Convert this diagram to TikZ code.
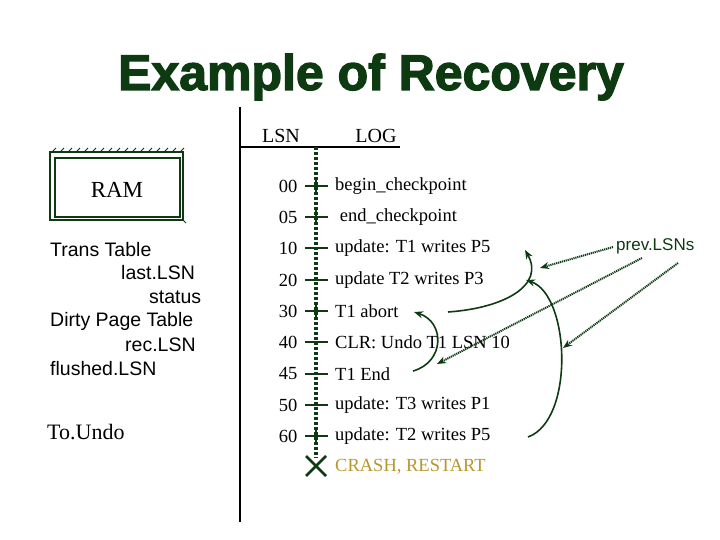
\documentclass[tikz,border=0pt]{standalone}
\usepackage{fontspec}
\setmainfont{Liberation Serif}
\newfontfamily\sansf{Liberation Sans}
\usetikzlibrary{arrows.meta}
\definecolor{dg}{HTML}{0E3A12}
\definecolor{gold}{HTML}{B8962E}
\begin{document}
\begin{tikzpicture}[x=1pt,y=-1pt,
  ser/.style={font=\fontsize{18.5}{22}\selectfont,inner sep=0pt},
  lsn/.style={ser,anchor=center},
  ent/.style={ser,anchor=west},
  sans/.style={font=\sansf\fontsize{19.5}{23}\selectfont,inner sep=0pt},
  back/.style={dg,line width=1.6pt,-{Stealth[length=9pt,width=7pt]}},
  prev/.style={dg,line width=2pt,dash pattern=on 1.2pt off 0.8pt,-{Stealth[length=9pt,width=7pt]}},
  tick/.style={dg,line width=2.6pt}]
\useasboundingbox (0,0) rectangle (720,540);
\node[font=\sansf\bfseries\fontsize{50}{56}\selectfont,text=dg] (title) at (371,77) {\special{pdf:literal direct 0.055 0.227 0.071 RG 2 Tr 1.3 w}Example of Recovery\special{pdf:literal direct 0 Tr}};
% frame lines
\coordinate (vt) at (240,107); \coordinate (vb) at (240,522);
\draw[line width=1.4pt] (vt) -- (vb);
\coordinate (hl) at (240,147); \coordinate (hr) at (400,147);
\draw[line width=1.4pt] (hl) -- (hr);
\node[ser,font=\fontsize{20}{24}\selectfont] (lsnh) at (281,136) {LSN};
\node[ser,font=\fontsize{20}{24}\selectfont] (logh) at (376,136) {LOG};
% RAM box
\draw[dg,line width=1.4pt] (50,152) rectangle (183,220);
\draw[dg,line width=1.4pt] (55,158) rectangle (180,217);
\foreach \x in {52,60,...,180} \draw[dg,line width=1pt] (\x,152) -- (\x+4,148);
\draw[dg,line width=1pt] (183,220) -- (186,223);
\node[ser,font=\fontsize{23}{26}\selectfont] (ram) at (117,190) {RAM};
\node[sans,anchor=west] (tt) at (50,250) {Trans Table};
\node[sans,anchor=west] (ll) at (121,273) {last.LSN};
\node[sans,anchor=west] (st) at (149,297) {status};
\node[sans,anchor=west] (dp) at (50,321) {Dirty Page Table};
\node[sans,anchor=west] (rl) at (125,345) {rec.LSN};
\node[sans,anchor=west] (fl) at (50,369) {flushed.LSN};
\node[ser,font=\fontsize{22}{26}\selectfont,anchor=west] (tu) at (47,432) {To.Undo};
% log
\coordinate (lt) at (316,147); \coordinate (lb) at (316,458);
\draw[dg,line width=3.5pt,dash pattern=on 3pt off 2pt] (lt) -- (lb);
\foreach \n/\y/\t/\v in {a/186/begin\_checkpoint/1,b/217/\ end\_checkpoint/1,c/248/update: T1 writes P5/0,d/280/update T2 writes P3/0,e/311/T1 abort/1,f/342/CLR: Undo T1 LSN 10/0,g/374/T1 End/0,h/405/update: T3 writes P1/0,i/436/update: T2 writes P5/1}{
  \draw[tick] (305,\y) -- (328,\y);
  \ifnum\v=1 \draw[tick] (316,\y-8) -- (316,\y+8); \fi
  \node[ent] (e\n) at (335,\y) {\t};
}
\foreach \n/\y/\l in {a/186/00,b/217/05,c/248/10,d/280/20,e/311/30,f/342/40,g/374/45,h/405/50,i/436/60}
  \node[lsn] (n\n) at (288,\y) {\l};
\draw[dg,line width=2.6pt] (306,456) -- (326,476) (326,456) -- (306,476);
\node[ent,text=gold] (crash) at (335,467) {CRASH, RESTART};
% backward arrows
\coordinate (s1) at (448,312); \coordinate (t1) at (525,250);
\draw[back] (s1) .. controls (505,308) and (545,285) .. (t1);
\coordinate (s2) at (528,437); \coordinate (t2) at (526,280);
\draw[back] (s2) .. controls (575,420) and (570,295) .. (t2);
\coordinate (s3) at (413,371); \coordinate (t3) at (414,312);
\draw[back] (s3) .. controls (445,362) and (445,322) .. (t3);
% prevLSNs
\node[font=\sansf\fontsize{17}{20}\selectfont,text=dg,anchor=west,inner sep=0pt] (pl) at (616,246) {prev.LSNs};
\coordinate (p1) at (613,247); \coordinate (p2) at (642,258); \coordinate (p3) at (678,263);
\coordinate (q1) at (540,268); \coordinate (q2) at (437,364); \coordinate (q3) at (563,348);
\draw[prev] (p1) -- (q1);
\draw[prev] (p2) -- (q2);
\draw[prev] (p3) -- (q3);
\end{tikzpicture}
\end{document}
